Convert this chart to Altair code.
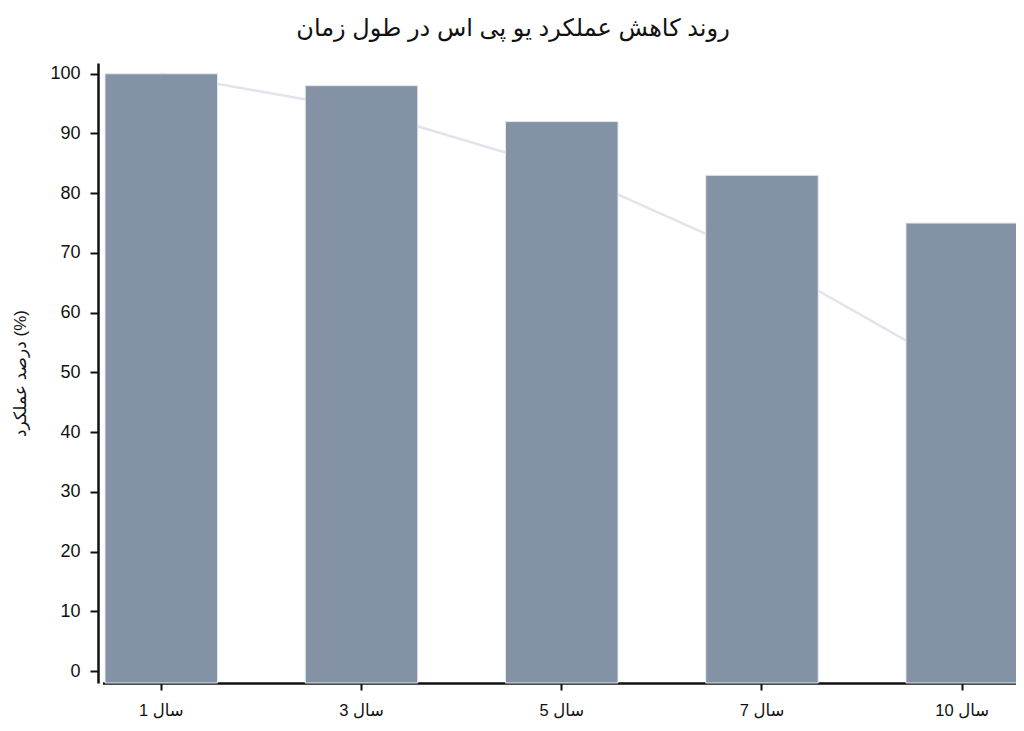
import altair as alt
import pandas as pd

categories = ["سال 1", "سال 3", "سال 5", "سال 7", "سال 10"]
bar_values = [100, 98, 92, 83, 75]
line_values = [100, 94, 84, 69, 50]
y_ticks = [0, 10, 20, 30, 40, 50, 60, 70, 80, 90, 100]

df = pd.DataFrame({"cat": categories, "bar": bar_values, "line": line_values})

ymin, ymax = -2.0, 101.8
FONT = "Liberation Sans, DejaVu Sans, sans-serif"

x = alt.X(
    "cat:N",
    sort=categories,
    scale=alt.Scale(paddingInner=0.438, paddingOuter=0.0125, range=[4.5, 923]),
    axis=alt.Axis(
        title=None,
        labelAngle=0,
        labelFontSize=16.5,
        labelFont=FONT,
        labelColor="#111",
        labelPadding=12,
        tickSize=7,
        tickWidth=2,
        tickColor="#111",
        domainWidth=2.5,
        domainColor="#111",
    ),
)

yscale = alt.Scale(domain=[ymin, ymax], nice=False, zero=False)

line = alt.Chart(df).mark_line(color="#e3e3ee", strokeWidth=2.5).encode(
    x=x,
    y=alt.Y("line:Q", scale=yscale),
)

bars = alt.Chart(df).mark_bar(color="#8492a6", stroke="#e6e9ef", strokeWidth=1).encode(
    x=x,
    y=alt.Y(
        "bar:Q",
        scale=yscale,
        axis=alt.Axis(
            values=y_ticks,
            title="درصد عملکرد (%)",
            titleFont=FONT,
            titleFontSize=17,
            titleFontWeight="normal",
            titleColor="#111",
            titleAngle=-90,
            titleX=-78,
            titleY=310,
            titleAlign="center",
            titleBaseline="middle",
            labelFontSize=18,
            labelFont=FONT,
            labelColor="#111",
            labelPadding=10,
            tickSize=8,
            tickWidth=2,
            tickColor="#111",
            domainWidth=2.5,
            domainColor="#111",
            grid=False,
        ),
    ),
    y2=alt.datum(ymin),
)

chart = (
    alt.layer(line, bars)
    .properties(
        width=918,
        height=620,
        title=alt.TitleParams(
            "روند کاهش عملکرد یو پی اس در طول زمان",
            font=FONT,
            fontSize=24,
            fontWeight="normal",
            color="#111",
            dx=-44,
            offset=22,
        ),
        autosize=alt.AutoSizeParams(type="none"),
        padding={"left": 90, "top": 55, "right": 0, "bottom": 40},
    )
    .configure_view(stroke=None)
)

chart.save("out.html", embed_options={"renderer": "svg", "actions": False})
